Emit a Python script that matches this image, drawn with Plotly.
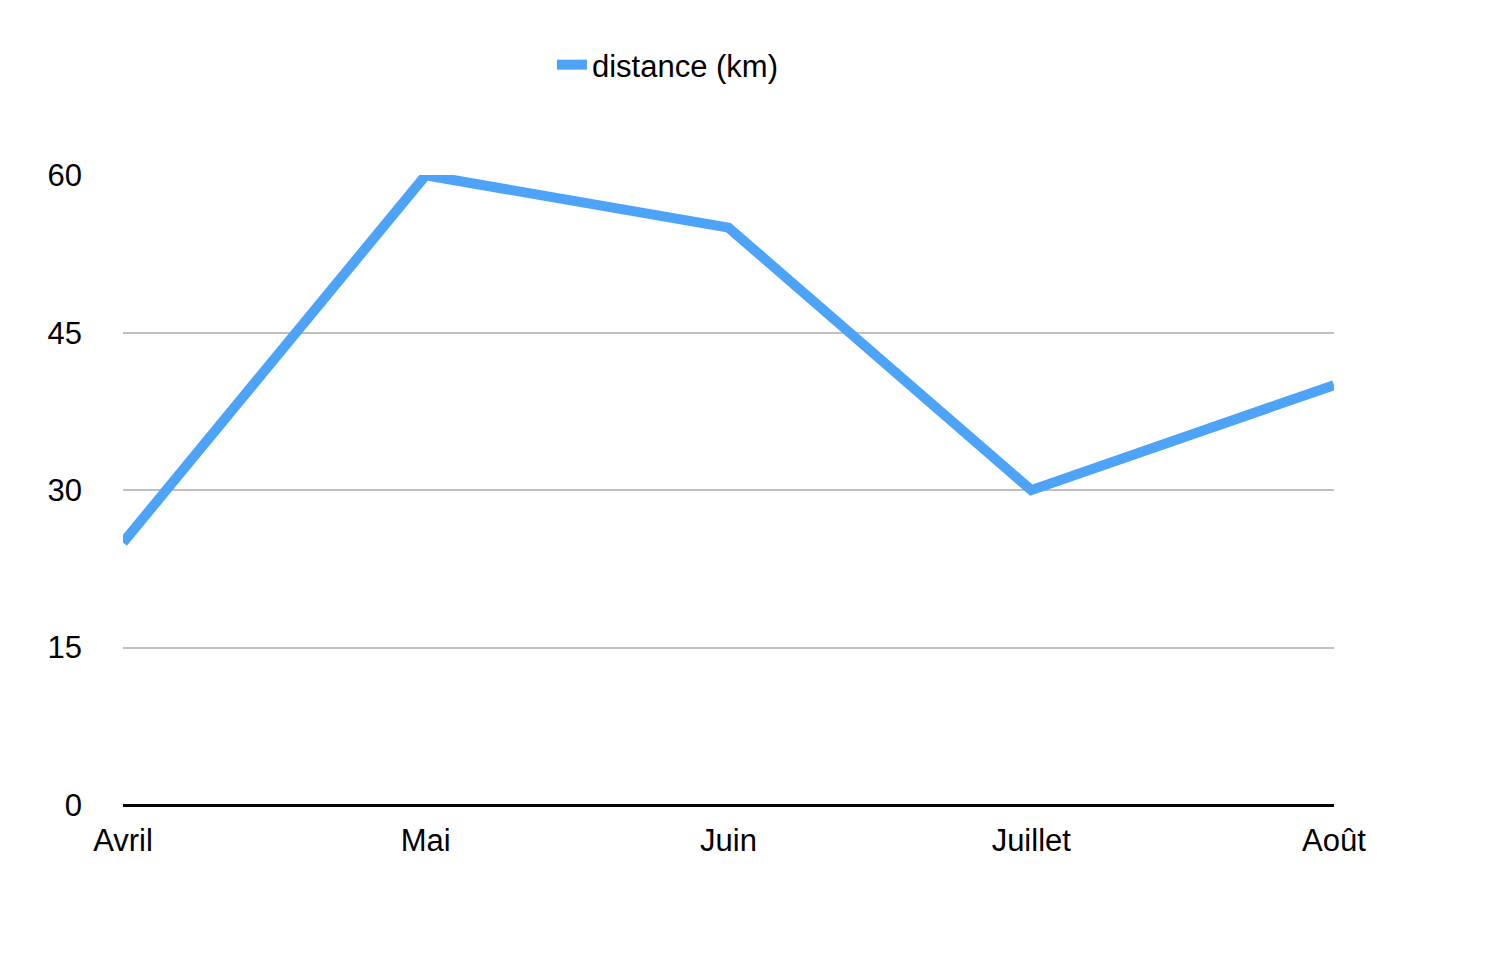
import plotly.graph_objects as go

months = ["Avril", "Mai", "Juin", "Juillet", "Août"]
distance = [25, 60, 55, 30, 40]
y_ticks = [0, 15, 30, 45, 60]

fig = go.Figure()
fig.add_trace(go.Scatter(x=months, y=distance, mode="lines", name="distance (km)",
                         line=dict(color="#4DA3F7", width=10), cliponaxis=False))
fig.update_layout(
    width=1490, height=954, paper_bgcolor="white", plot_bgcolor="white",
    margin=dict(l=115, r=164, t=167, b=157, autoexpand=False),
    font=dict(family="Liberation Sans, Arial, sans-serif", size=31, color="black"),
    showlegend=True,
    legend=dict(orientation="h", x=0.45, xanchor="center", yref="container",
                y=1 - 57 / 954, yanchor="middle", font=dict(size=31)),
    xaxis=dict(range=[0, 4], showgrid=False, zeroline=False, showline=False,
               ticks="", ticklabelstandoff=14, automargin=False),
    yaxis=dict(range=[0, 60.02], tickvals=y_ticks, showgrid=True, gridcolor="#c0c0c0",
               gridwidth=1.5, zeroline=True, zerolinecolor="black", zerolinewidth=3,
               ticks="", ticklabelstandoff=40, automargin=False),
)
fig.write_html("out.html")
